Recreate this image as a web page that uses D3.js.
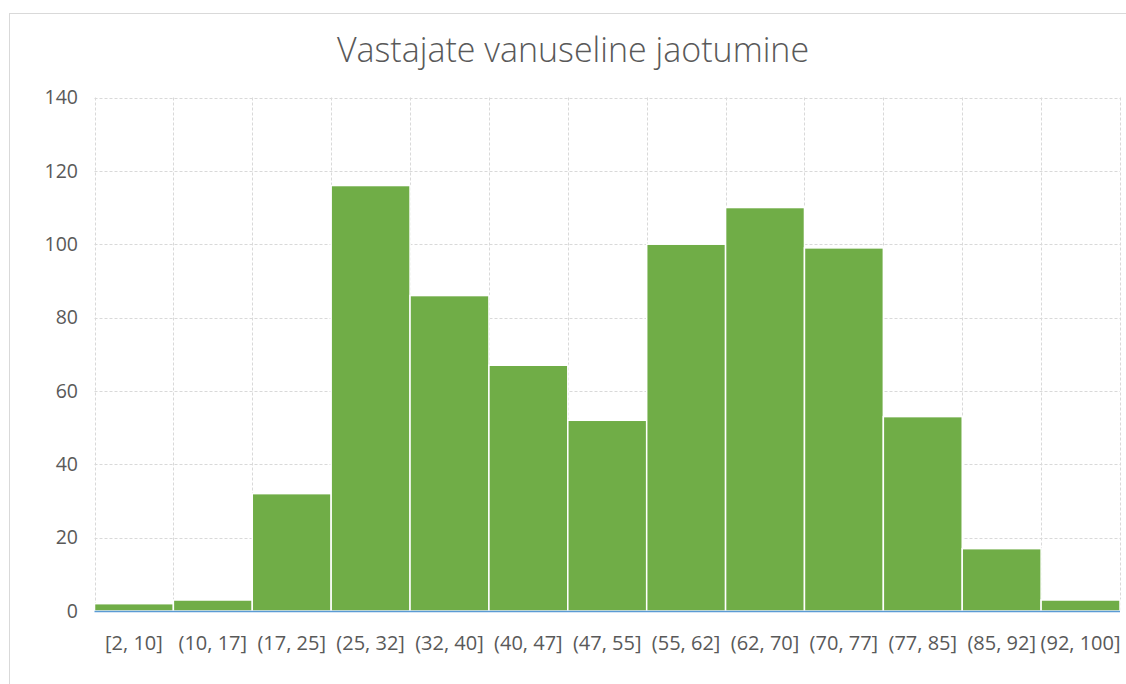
<!DOCTYPE html>
<html>
<head>
<meta charset="utf-8">
<script src="https://cdn.jsdelivr.net/npm/d3@7"></script>
<style>
 body { margin: 0; background: #fff; }
 svg { display: block; }
</style>
</head>
<body>
<div id="chart"></div>
<script>
// age bins and respondent counts
var bins = ["[2, 10]", "(10, 17]", "(17, 25]", "(25, 32]", "(32, 40]", "(40, 47]", "(47, 55]",
 "(55, 62]", "(62, 70]", "(70, 77]", "(77, 85]", "(85, 92]", "(92, 100]"];
var counts = [2, 3, 32, 116, 86, 67, 52, 100, 110, 99, 53, 17, 3];
var yTicks = [0, 20, 40, 60, 80, 100, 120, 140];
var title = "Vastajate vanuseline jaotumine";

var width = 1126,
 height = 684,
 margin = {top: 97.5, right: 6, bottom: 73, left: 94.5};

var svg = d3.select("#chart")
 .append("svg")
 .attr("width", width)
 .attr("height", height);

// chart area border
svg.append("rect")
 .attr("x", 9.5).attr("y", 13.5)
 .attr("width", 1130).attr("height", 700)
 .attr("fill", "none")
 .attr("stroke", "#d9d9d9");

svg.append("text")
 .attr("x", 573).attr("y", 62)
 .attr("text-anchor", "middle")
 .style("font-family", "'Open Sans', sans-serif")
 .style("font-weight", 300)
 .style("font-size", "34px")
 .style("fill", "#595959")
 .text(title);

var x = d3.scaleBand()
 .domain(bins)
 .range([margin.left, width - margin.right])
 .padding(0);

var y = d3.scaleLinear()
 .domain([0, 140])
 .range([height - margin.bottom, margin.top]);

var g = svg.append("g");

// horizontal grid
g.selectAll(".hgrid")
 .data(yTicks.filter(function(d) { return d > 0; }))
 .enter().append("line")
 .attr("x1", margin.left).attr("x2", width - margin.right)
 .attr("y1", function(d) { return Math.round(y(d)) + 0.5; })
 .attr("y2", function(d) { return Math.round(y(d)) + 0.5; })
 .attr("stroke", "#d9d9d9")
 .attr("stroke-dasharray", "3,2");

// vertical grid at bin edges
var edges = bins.map(function(b) { return x(b); }).concat([x(bins[bins.length - 1]) + x.bandwidth()]);
g.selectAll(".vgrid")
 .data(edges)
 .enter().append("line")
 .attr("x1", function(d) { return Math.round(d) + 0.5; })
 .attr("x2", function(d) { return Math.round(d) + 0.5; })
 .attr("y1", y(140)).attr("y2", y(0))
 .attr("stroke", "#d9d9d9")
 .attr("stroke-dasharray", "3,2");

// bars
g.selectAll(".bar")
 .data(counts)
 .enter().append("rect")
 .attr("x", function(d, i) { return x(bins[i]); })
 .attr("y", function(d) { return y(d); })
 .attr("width", x.bandwidth())
 .attr("height", function(d) { return y(0) - y(d); })
 .attr("fill", "#70ad47")
 .attr("stroke", "#ffffff")
 .attr("stroke-width", 1.5);

// baseline
g.append("line")
 .attr("x1", margin.left).attr("x2", width - margin.right)
 .attr("y1", y(0) + 0.5).attr("y2", y(0) + 0.5)
 .attr("stroke", "#5b9bd5")
 .attr("stroke-width", 1.5);

// y labels
g.selectAll(".ylab")
 .data(yTicks)
 .enter().append("text")
 .attr("x", 78)
 .attr("y", function(d) { return y(d); })
 .attr("dy", "0.35em")
 .attr("text-anchor", "end")
 .style("font-family", "'Open Sans', sans-serif")
 .style("font-size", "19.5px")
 .style("fill", "#595959")
 .text(function(d) { return d; });

// x labels
g.selectAll(".xlab")
 .data(bins)
 .enter().append("text")
 .attr("x", function(d) { return x(d) + x.bandwidth() / 2; })
 .attr("y", 650)
 .attr("text-anchor", "middle")
 .style("font-family", "'Open Sans', sans-serif")
 .style("font-size", "20px")
 .style("fill", "#595959")
 .text(function(d) { return d; });
</script>
</body>
</html>
